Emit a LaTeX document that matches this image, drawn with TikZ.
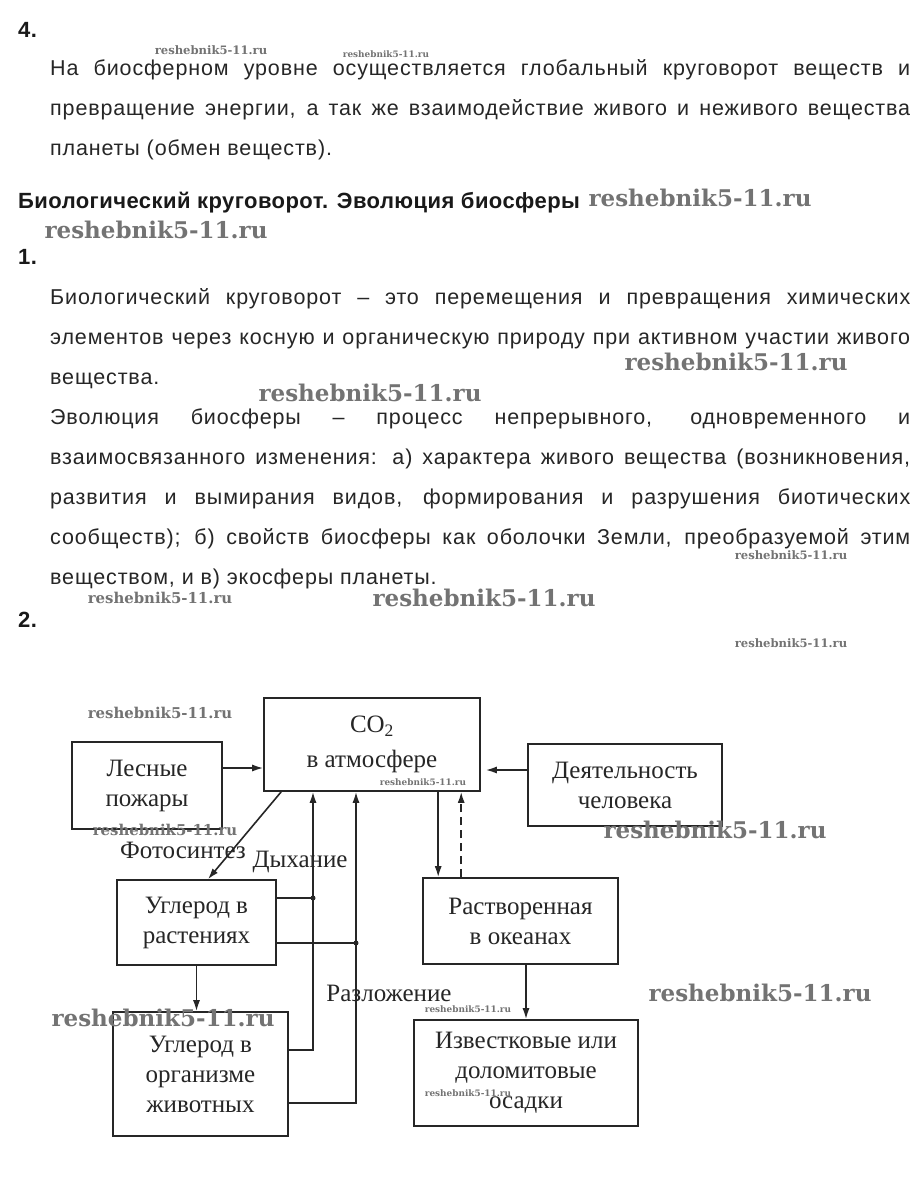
\documentclass[tikz,border=0pt]{standalone}
\usepackage{fontspec}
\setmainfont{Liberation Sans}
\newfontfamily\schemefont{Liberation Serif}
\newfontfamily\markfont{DejaVu Serif}
\usetikzlibrary{arrows.meta, positioning}

\begin{document}
\begin{tikzpicture}[
    x=1pt, y=-1pt,
    box/.style={rectangle, draw=black!85, line width=1.6pt, align=center, inner sep=0pt, text=black!85, font=\schemefont\fontsize{25}{30}\selectfont},
    arrow/.style={-{Latex[length=11pt,width=7pt]}, line width=1.6pt, draw=black!85},
    link/.style={line width=1.6pt, draw=black!85},
    dot/.style={circle, fill=black!85, inner sep=0pt, minimum size=5pt},
    tag/.style={inner sep=0pt, text=black!85, font=\schemefont\fontsize{25}{30}\selectfont},
    para/.style={anchor=north west, inner sep=0pt, text width=860pt, align=justify, text=black!85, font=\fontsize{21.5}{40}\selectfont\addfontfeatures{LetterSpace=4}},
    num/.style={anchor=base west, inner sep=0pt, text=black!90, font=\bfseries\fontsize{22}{26}\selectfont\addfontfeatures{LetterSpace=2}},
    wmbig/.style={inner sep=0pt, text=black!55, font=\markfont\bfseries\fontsize{23}{23}\selectfont},
    wmmid/.style={inner sep=0pt, text=black!55, font=\markfont\bfseries\fontsize{14.9}{15}\selectfont},
    wmsmall/.style={inner sep=0pt, text=black!55, font=\markfont\bfseries\fontsize{11.6}{12}\selectfont},
    wmtiny/.style={inner sep=0pt, text=black!55, font=\markfont\bfseries\fontsize{8.9}{9}\selectfont}
]
    \useasboundingbox (0,0) rectangle (922,1181);
    \fill[white] (0,0) rectangle (922,1181);

    % text of the page
    \node[num] (n4) at (18,37) {4.};
    \node[para] (biosphere) at (50,47) {\hyphenpenalty=10000\strut На биосферном уровне осуществляется глобальный круговорот веществ и\linebreak превращение энергии, а так же взаимодействие живого и неживого вещества\linebreak планеты (обмен веществ).};
    \node[num] (title) at (18,208) {Биологический круговорот. Эволюция биосферы};
    \node[num] (n1) at (18,264) {1.};
    \node[para] (cycle) at (50,276) {\hyphenpenalty=10000\parindent=0pt\strut Биологический круговорот – это перемещения и превращения химических\linebreak элементов через косную и органическую природу при активном участии живого\linebreak вещества.\par
    Эволюция биосферы – процесс непрерывного, одновременного и\linebreak взаимосвязанного изменения: а) характера живого вещества (возникновения,\linebreak развития и вымирания видов, формирования и разрушения биотических\linebreak сообществ); б) свойств биосферы как оболочки Земли, преобразуемой этим\linebreak веществом, и в) экосферы планеты.};
    \node[num] (n2) at (18,627) {2.};

    % scheme
    \node[box, minimum width=216pt, minimum height=93pt] (co2) at (372,744.5) {CO\textsubscript{2}\\[5pt]в атмосфере};
    \node[box, minimum width=150pt, minimum height=87pt] (fires) at (147,785.5) {Лесные\\пожары};
    \node[box, minimum width=194pt, minimum height=82pt] (human) at (625,785) {Деятельность\\человека};
    \node[box, minimum width=159pt, minimum height=85pt] (plants) at (196.5,922.5) {Углерод в\\растениях};
    \node[box, minimum width=195pt, minimum height=86pt] (ocean) at (520.5,921) {Растворенная\\в океанах};
    \node[box, minimum width=175pt, minimum height=124pt] (animals) at (200.5,1074) {Углерод в\\организме\\животных};
    \node[box, minimum width=224pt, minimum height=106pt] (rocks) at (526,1073) {Известковые или\\доломитовые\\осадки};

    \node[tag] (photo) at (183,850) {Фотосинтез};
    \node[tag] (breath) at (300,862) {Дыхание};
    \node[tag] (decay) at (389,993) {Разложение};

    \coordinate (f1) at ([yshift=17.5pt]fires.east);
    \draw[arrow] (f1) -- (f1 -| co2.west);
    \coordinate (h1) at ([yshift=15pt]human.west);
    \draw[arrow, shorten >=5pt] (h1) -- (h1 -| co2.east);
    \draw[arrow] ([xshift=18pt]co2.south west) -- ([xshift=11.5pt]plants.north);

    \coordinate (o1) at ([xshift=16pt]ocean.north west);
    \coordinate (o2) at ([xshift=39pt]ocean.north west);
    \draw[arrow] (o1 |- co2.south) -- (o1);
    \draw[arrow, dash pattern=on 8pt off 5pt] (o2) -- (o2 |- co2.south);

    % respiration and decay lines
    \coordinate (rline) at (313,1050);
    \coordinate (dline) at (356,1103);
    \draw[arrow] ([yshift=24pt]animals.east) -| (rline |- co2.south);
    \draw[arrow] ([yshift=-29pt]animals.east) -| (dline |- co2.south);
    \coordinate (p1) at ([yshift=24.5pt]plants.east);
    \coordinate (p2) at ([yshift=-20.5pt]plants.east);
    \draw[link] (p1) -- (p1 -| rline) node[dot] {};
    \draw[link] (p2) -- (p2 -| dline) node[dot] {};

    \draw[arrow] (plants.south) -- (plants.south |- animals.north);
    \draw[arrow] (rocks.north |- ocean.south) -- (rocks.north);

    % watermarks
    \node[wmsmall] (wm1) at (211,50) {reshebnik5-11.ru};
    \node[wmtiny] (wm2) at (386,54) {reshebnik5-11.ru};
    \node[wmbig] (wm3) at (700,198) {reshebnik5-11.ru};
    \node[wmbig] (wm4) at (156,230) {reshebnik5-11.ru};
    \node[wmbig] (wm5) at (736,362) {reshebnik5-11.ru};
    \node[wmbig] (wm6) at (370,393) {reshebnik5-11.ru};
    \node[wmsmall] (wm7) at (791,555) {reshebnik5-11.ru};
    \node[wmmid] (wm8) at (160,598) {reshebnik5-11.ru};
    \node[wmbig] (wm9) at (484,598) {reshebnik5-11.ru};
    \node[wmsmall] (wm10) at (791,643) {reshebnik5-11.ru};
    \node[wmmid] (wm11) at (160,713) {reshebnik5-11.ru};
    \node[wmtiny] (wm12) at (423,782) {reshebnik5-11.ru};
    \node[wmmid] (wm13) at (165,830) {reshebnik5-11.ru};
    \node[wmbig] (wm14) at (715,830) {reshebnik5-11.ru};
    \node[wmbig] (wm15) at (760,993) {reshebnik5-11.ru};
    \node[wmbig] (wm16) at (163,1018) {reshebnik5-11.ru};
    \node[wmtiny] (wm17) at (468,1009) {reshebnik5-11.ru};
    \node[wmtiny] (wm18) at (468,1093) {reshebnik5-11.ru};
\end{tikzpicture}
\end{document}
